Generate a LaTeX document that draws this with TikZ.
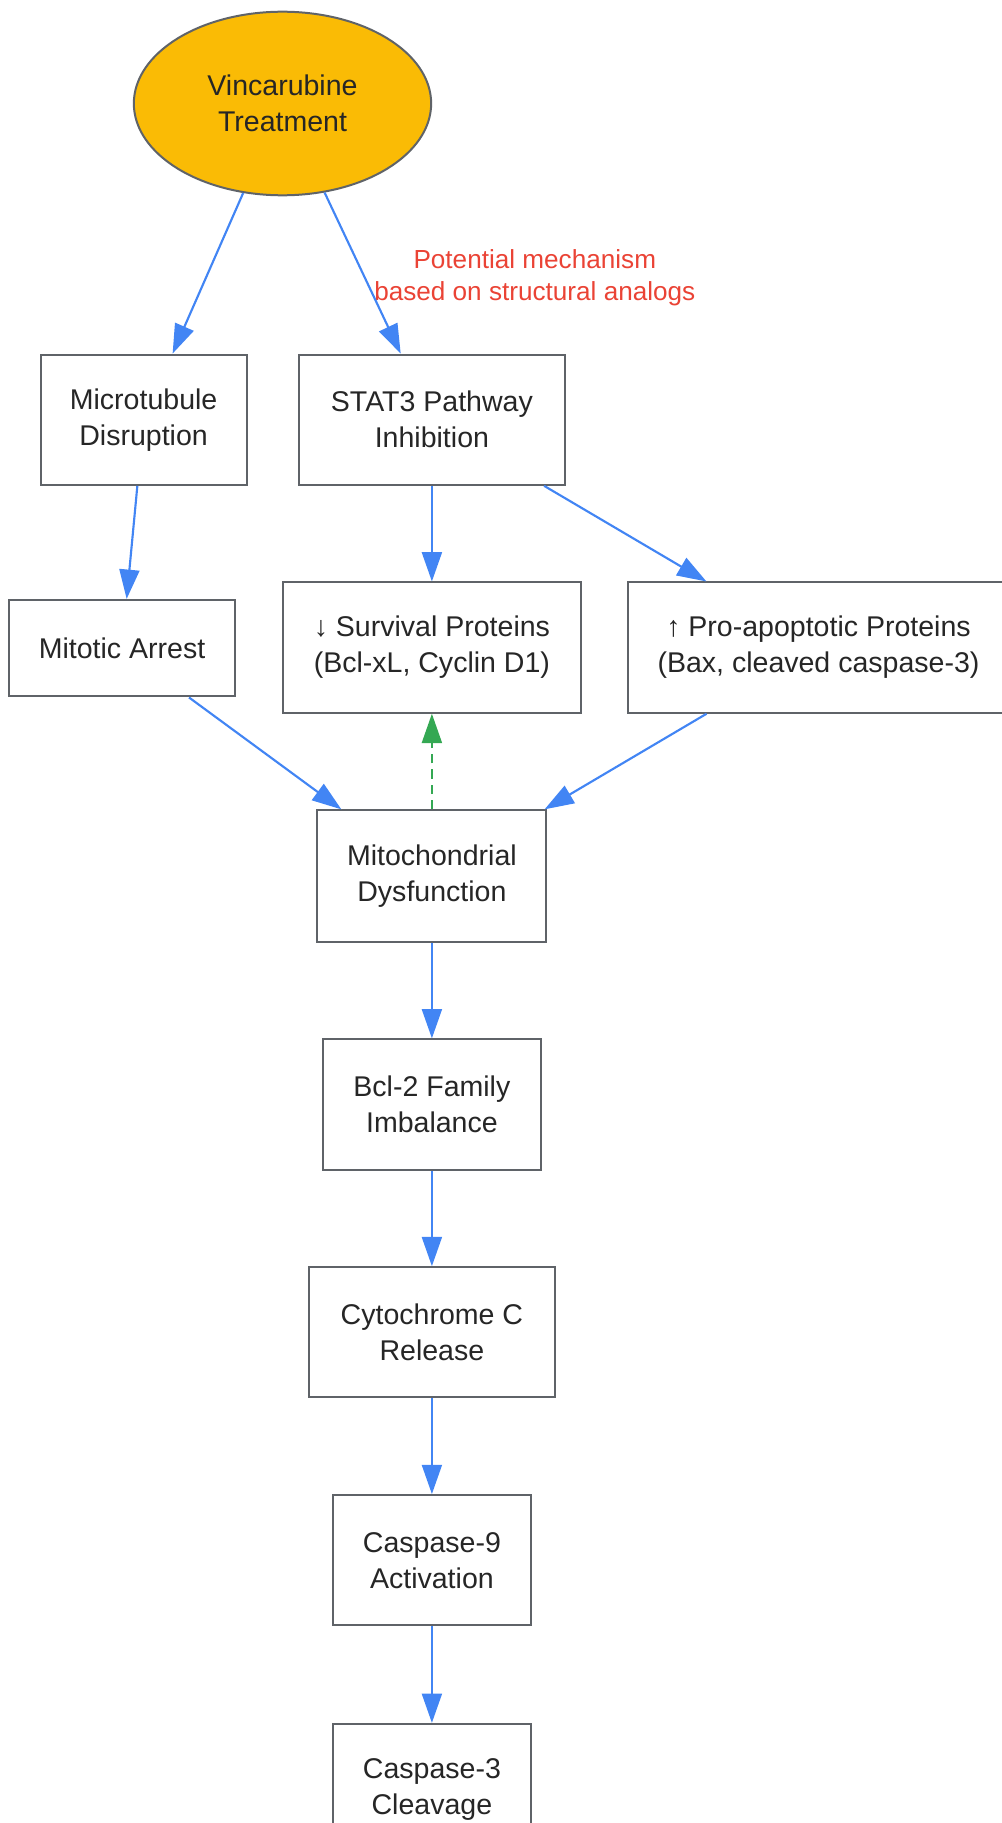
\documentclass[tikz,border=0pt]{standalone}
\usepackage{fontspec}
\setmainfont{Liberation Sans}
\usetikzlibrary{arrows.meta,shapes.geometric}
\definecolor{flowblue}{HTML}{4285F4}
\definecolor{flowgreen}{HTML}{34A853}
\definecolor{notered}{HTML}{EA4335}
\definecolor{boxgray}{HTML}{5F6368}
\definecolor{treatgold}{HTML}{FABB05}
\tikzset{
  stepbox/.style={draw=boxgray, line width=1.5pt, fill=white, align=center,
    text=black!85, font=\fontsize{21.4}{27}\selectfont, inner sep=0pt,
    minimum height=97.7pt},
  treat/.style={stepbox, ellipse, fill=treatgold, minimum width=223pt, minimum height=137.7pt},
  flow/.style={draw=flowblue, line width=1.6pt, -{Triangle[length=22pt,width=15pt]}},
  feedback/.style={draw=flowgreen, line width=1.6pt, dash pattern=on 7pt off 4.5pt,
    -{Triangle[length=22pt,width=15pt]}},
  notetext/.style={text=notered, align=center, font=\fontsize{19.6}{24.4}\selectfont}
}

\begin{document}
\begin{tikzpicture}[x=0.75pt,y=-0.75pt]
            \useasboundingbox (0,0) rectangle (1001,1823);
            \node[treat] (vinc) at (282.5,103.5) {Vincarubine\\Treatment};
            \node[stepbox, minimum width=154.4pt] (micro) at (143.6,419.7) {Microtubule\\Disruption};
            \node[stepbox, minimum width=199.7pt] (stat) at (431.9,419.7) {STAT3 Pathway\\Inhibition};
            \node[stepbox, minimum width=169.1pt, minimum height=72.4pt] (arrest) at (122,648.2) {Mitotic Arrest};
            \node[stepbox, minimum width=224.1pt] (surv) at (431.9,647.6) {↓ Survival Proteins\\(Bcl-xL, Cyclin D1)};
            \node[stepbox, minimum width=286pt] (proapo) at (818.5,647.6) {↑ Pro-apoptotic Proteins\\(Bax, cleaved caspase-3)};
            \node[stepbox, minimum width=171.8pt, minimum height=98.5pt] (mito) at (431.9,876) {Mitochondrial\\Dysfunction};
            \node[stepbox, minimum width=163pt] (bcl) at (431.9,1104.5) {Bcl-2 Family\\Imbalance};
            \node[stepbox, minimum width=184pt] (cyto) at (431.9,1332.3) {Cytochrome C\\Release};
            \node[stepbox, minimum width=149.1pt] (casnine) at (431.9,1560.2) {Caspase-9\\Activation};
            \node[stepbox, minimum width=149.1pt] (casthree) at (431.9,1789) {Caspase-3\\Cleavage};
            \node[notetext] (note) at (534.8,277.8) {Potential mechanism\\based on structural analogs};
            % edges
            \draw[flow] (vinc) -- (micro);
            \draw[flow] (vinc) -- (stat);
            \draw[flow] (micro) -- (arrest);
            \draw[flow] (stat) -- (surv);
            \draw[flow] (stat) -- (proapo);
            \draw[flow] (arrest) -- (mito);
            \draw[flow] (proapo) -- (mito);
            \draw[feedback] (mito) -- (surv);
            \draw[flow] (mito) -- (bcl);
            \draw[flow] (bcl) -- (cyto);
            \draw[flow] (cyto) -- (casnine);
            \draw[flow] (casnine) -- (casthree);
        \end{tikzpicture}
\end{document}
